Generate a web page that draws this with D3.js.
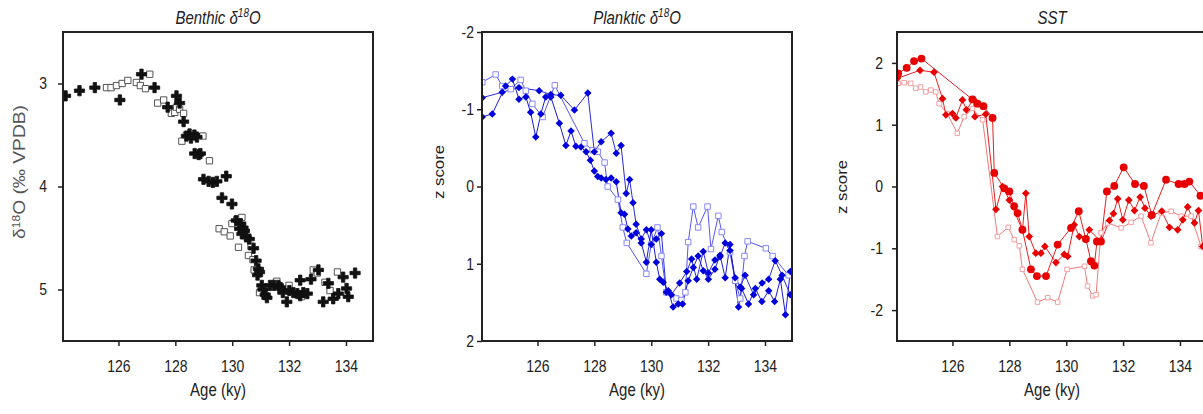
<!DOCTYPE html>
<html>
<head>
<meta charset="utf-8">
<script src="https://cdn.jsdelivr.net/npm/d3@7"></script>
<style>
body { margin: 0; background: #fff; }
svg { display: block; font-family: "Liberation Sans", Arial, sans-serif; }
</style>
</head>
<body>
<svg id="chart" width="1203" height="414"></svg>
<script>
// tick values
const ageTicks = [126, 128, 130, 132, 134]
const benthicTicks = [3, 4, 5]
const zTicks = [-2, -1, 0, 1, 2]

// benthic d18O, [age ky, permil]
const benthicCross = [[124.14,3.12],[124.63,3.07],[125.17,3.04],[126.05,3.16],[126.81,2.91],[127.27,3.04],[127.73,3.23],[128.04,3.12],[128.15,3.19],[128.29,3.37],[128.39,3.51],[128.5,3.49],[128.55,3.53],[128.67,3.50],[128.76,3.52],[128.68,3.68],[128.82,3.69],[128.88,3.68],[128.99,3.93],[129.17,3.95],[129.32,3.96],[129.46,3.95],[129.79,3.90],[129.64,4.11],[129.99,4.17],[130.14,4.33],[130.3,4.36],[130.26,4.41],[130.38,4.40],[130.43,4.43],[130.34,4.46],[130.49,4.49],[130.6,4.51],[130.75,4.6],[130.84,4.72],[130.92,4.80],[130.96,4.83],[130.89,4.86],[131.04,4.96],[131.08,5.0],[131.16,5.05],[131.22,5.08],[131.33,4.96],[131.47,4.96],[131.62,4.96],[131.7,4.98],[131.78,5.03],[131.92,5.12],[132.01,5.01],[132.15,5.03],[132.29,5.04],[132.39,5.06],[132.5,5.03],[132.64,5.04],[132.39,4.91],[132.77,4.90],[133.03,4.81],[133.2,5.12],[133.38,4.94],[133.55,5.09],[133.73,5.04],[133.9,4.88],[134.02,4.99],[134.08,5.07],[134.32,4.84]]
const benthicSquare = [[125.58,3.04],[125.74,3.04],[125.93,3.02],[126.13,3.0],[126.33,2.97],[126.63,2.99],[126.77,3.02],[126.95,3.05],[127.1,2.91],[127.38,3.19],[127.59,3.16],[127.86,3.29],[127.98,3.28],[128.04,3.23],[128.15,3.25],[128.29,3.29],[128.23,3.56],[128.39,3.50],[128.97,3.51],[129.2,3.75],[129.54,4.41],[129.72,4.44],[129.93,4.48],[129.99,4.36],[130.16,4.32],[130.34,4.30],[130.22,4.59],[130.66,4.58],[130.57,4.67],[130.73,4.71],[130.77,4.81],[130.96,5.03],[131.51,4.94],[131.57,4.92],[132.0,4.96],[132.44,5.07],[132.85,4.81],[132.99,4.84],[133.26,4.93],[133.44,5.01],[133.7,4.83]]

// planktic d18O z scores
const plankticA = [[124.06,-0.90],[124.41,-0.94],[124.88,-1.30],[125.12,-1.39],[125.35,-1.13],[125.59,-1.16],[125.76,-0.96],[125.94,-0.64],[126.12,-0.94],[126.29,-1.16],[126.47,-1.16],[126.77,-0.82],[127.0,-0.53],[127.18,-0.72],[127.35,-0.52],[127.53,-0.51],[127.71,-0.45],[127.86,-0.34],[128.0,-0.20],[128.12,-0.13],[128.24,-0.11],[128.41,-0.09],[128.59,-0.11],[128.77,-0.06],[128.94,0.34],[129.06,0.36],[129.18,0.55],[129.3,0.64],[129.47,0.60],[129.65,0.73],[129.83,0.98],[130.0,0.56],[130.18,0.98],[130.3,1.20],[130.42,1.24],[130.6,1.35],[130.77,1.56],[130.95,1.52],[131.1,1.52],[131.3,1.22],[131.48,1.05],[131.65,0.90],[131.83,1.09],[132.01,1.20],[132.24,1.07],[132.42,0.89],[132.6,1.18],[132.77,0.75],[133.07,1.56],[133.18,1.32],[133.42,1.52],[133.66,1.32],[133.89,1.49],[134.13,1.35],[134.34,1.49],[134.54,1.20],[134.72,1.66],[134.89,1.10]]
const plankticB = [[124.06,-1.15],[124.76,-1.22],[125.35,-1.28],[126.06,-1.24],[126.47,-1.19],[126.82,-1.18],[127.30,-0.99],[127.77,-1.21],[128.0,-0.45],[128.24,-0.58],[128.59,-0.69],[128.77,-0.43],[128.94,-0.53],[129.12,0.09],[129.24,-0.09],[129.36,0.21],[129.47,0.49],[129.65,0.68],[129.83,0.56],[130.0,0.75],[130.18,0.68],[130.36,0.61],[130.53,1.37],[130.71,1.40],[131.0,1.25],[131.25,1.10],[131.42,0.94],[131.6,1.20],[131.83,0.84],[132.01,1.12],[132.24,0.95],[132.42,0.91],[132.6,0.73],[132.77,0.83],[132.95,1.18],[133.13,1.30],[133.3,1.15],[133.6,1.40],[133.9,1.25],[134.13,1.20],[134.36,0.96],[134.6,1.15],[134.89,1.40]]
const plankticC = [[124.06,-1.35],[124.53,-1.45],[124.76,-1.30],[125.06,-1.26],[125.41,-1.38],[125.59,-1.24],[125.82,-1.07],[126.18,-0.90],[126.61,-1.31],[127.65,-0.56],[127.94,-0.47],[128.12,-0.45],[128.36,-0.31],[128.47,0.0],[128.83,0.17],[129.0,0.53],[129.14,0.73],[129.83,1.13],[130.0,0.75],[130.22,0.53],[130.36,0.90],[130.53,1.37],[130.89,1.45],[131.06,1.47],[131.2,1.37],[131.3,0.72],[131.48,0.26],[131.65,0.53],[131.98,0.26],[132.1,0.81],[132.36,0.38],[132.48,0.59],[132.77,0.85],[132.95,1.22],[133.13,1.45],[133.28,0.90],[133.39,0.71],[134.03,0.80],[134.27,0.90],[134.83,1.15]]

// SST z scores
const sstA = [[124.09,1.83],[124.39,1.92],[124.65,2.03],[124.91,2.07],[126.70,1.41],[126.88,1.34],[127.09,1.30],[127.41,1.11],[127.47,0.22],[127.82,-0.03],[128.0,-0.08],[128.17,-0.32],[128.29,-0.43],[128.46,-0.70],[128.76,-1.34],[128.97,-1.45],[129.29,-1.45],[129.70,-0.94],[130.17,-0.67],[130.44,-0.40],[130.69,-0.85],[130.87,-1.21],[130.99,-1.28],[131.08,-0.89],[131.22,-0.89],[131.43,-0.08],[131.69,0.01],[132.02,0.31],[132.42,0.04],[132.73,0.01],[133.01,-0.46],[133.51,0.11],[133.95,0.04],[134.16,0.04],[134.33,0.08],[134.72,-0.15]]
const sstB = [[124.06,1.75],[124.86,1.88],[125.35,1.85],[125.65,1.42],[125.77,1.16],[126.0,1.18],[126.12,1.11],[126.35,1.40],[126.49,1.24],[126.74,1.41],[126.79,1.13],[127.17,1.17],[127.53,-0.37],[127.76,0.0],[128.0,-0.22],[128.46,-0.70],[128.58,-0.11],[128.7,-0.81],[128.93,-1.08],[129.11,-1.08],[129.25,-0.97],[129.64,-1.23],[129.93,-1.10],[130.05,-1.13],[130.28,-0.62],[130.46,-0.81],[130.69,-0.85],[130.81,-0.70],[131.22,-0.89],[131.52,-0.55],[131.66,-0.44],[131.81,-0.20],[131.99,-0.54],[132.2,-0.22],[132.4,-0.39],[132.6,-0.17],[132.77,-0.35],[132.98,-0.48],[133.36,-0.40],[133.63,-0.66],[133.92,-0.70],[134.1,-0.54],[134.27,-0.33],[134.51,-0.59],[134.65,-0.39],[134.8,-0.97]]
const sstC = [[124.09,1.67],[124.3,1.68],[124.53,1.67],[124.71,1.59],[124.88,1.61],[125.06,1.53],[125.24,1.56],[125.41,1.53],[125.53,1.34],[125.82,1.18],[126.17,0.86],[126.41,1.13],[126.7,1.26],[127.06,1.08],[127.58,-0.81],[127.96,-0.66],[128.17,-0.86],[128.35,-0.96],[128.46,-1.34],[128.99,-1.87],[129.35,-1.80],[129.70,-1.87],[130.03,-1.34],[130.64,-1.29],[130.75,-1.61],[130.93,-1.77],[131.05,-1.75],[131.22,-0.75],[131.46,-0.59],[131.93,-0.67],[132.28,-0.58],[132.63,-0.48],[132.98,-0.91],[133.34,-0.43],[133.69,-0.40],[134.04,-0.48],[134.39,-0.48],[134.74,-0.97]]

const svg = d3.select('#chart')
const plotTop = 32, plotBottom = 341, plotW = 310
const stretch = 'scale(1,1.2)'

function drawPanel(opt) {
    const g = svg.append('g').attr('transform', `translate(${opt.left},0)`)
    const x = d3.scaleLinear().domain([124.05, 134.95]).range([0, plotW])
    const y = d3.scaleLinear().domain(opt.yDomain).range([plotTop, plotBottom])

    const clipId = 'clip' + opt.left
    g.append('clipPath').attr('id', clipId)
        .append('rect').attr('x', 0).attr('y', plotTop).attr('width', plotW).attr('height', plotBottom - plotTop)

    // plain hyphen for negatives, like the original
    const fmt = d => String(d)
    const xAxis = g.append('g')
        .attr('transform', `translate(0,${plotBottom})`)
        .call(d3.axisBottom(x).tickValues(ageTicks).tickSize(5).tickPadding(11).tickFormat(fmt))
    const yAxis = g.append('g')
        .call(d3.axisLeft(y).tickValues(opt.yTicks).tickSize(5).tickPadding(opt.pad).tickFormat(fmt))

    ;[xAxis, yAxis].forEach(a => {
        a.select('.domain').remove()
        a.selectAll('.tick line').attr('stroke', '#222').attr('stroke-width', 1.5)
        a.selectAll('.tick text').attr('fill', '#222').style('font-size', '14px')
            .style('font-family', '"Liberation Sans", Arial, sans-serif')
            .attr('transform', stretch)
    })

    const plot = g.append('g').attr('clip-path', `url(#${clipId})`)
    const line = d3.line().x(d => x(d[0])).y(d => y(d[1]))

    opt.series.forEach(s => {
        if (s.line) {
            plot.append('path').datum(s.data)
                .attr('d', line)
                .attr('fill', 'none')
                .attr('stroke', s.lineColor)
                .attr('stroke-width', s.lineWidth || 1)
        }
    })
    opt.series.forEach(s => {
        const sym = d3.symbol().type(s.type).size(s.size)
        plot.append('g').selectAll('path')
            .data(s.data)
            .join('path')
            .attr('d', sym)
            .attr('transform', d => `translate(${x(d[0])},${y(d[1])})` + (s.rotate ? ' rotate(45)' : ''))
            .attr('fill', s.fill)
            .attr('stroke', s.stroke || 'none')
            .attr('stroke-width', s.strokeWidth || 1)
            .attr('stroke-linejoin', 'round')
    })

    g.append('rect')
        .attr('x', 0).attr('y', plotTop)
        .attr('width', plotW).attr('height', plotBottom - plotTop)
        .attr('fill', 'none').attr('stroke', '#222').attr('stroke-width', 2)

    // title
    const t = g.append('text')
        .attr('transform', `translate(${plotW / 2},24) ${stretch}`)
        .attr('text-anchor', 'middle')
        .style('font-size', '15px').style('font-style', 'italic')
        .attr('fill', '#222')
    opt.title.forEach(p => {
        const ts = t.append('tspan').text(p.t)
        if (p.sup) ts.attr('baseline-shift', 'super').style('font-size', '10px')
    })

    // x label
    g.append('text')
        .attr('transform', `translate(${plotW / 2},396) ${stretch}`)
        .attr('text-anchor', 'middle')
        .style('font-size', '15px').attr('fill', '#222')
        .text('Age (ky)')

    // y label
    const yl = g.append('text')
        .attr('transform', `translate(${opt.yLabelX},${opt.yLabelY}) rotate(-90) scale(1.2,1)`)
        .attr('text-anchor', 'middle')
        .style('font-size', opt.yLabelSize || '14px').attr('fill', opt.yLabelColor || '#222')
    opt.yLabel.forEach(p => {
        const ts = yl.append('tspan').text(p.t)
        if (p.sup) ts.attr('baseline-shift', 'super').style('font-size', '10px')
    })
}

drawPanel({
    left: 63, yDomain: [2.5, 5.5], yTicks: benthicTicks, pad: 11,
    title: [{t: 'Benthic \u03b4'}, {t: '18', sup: true}, {t: 'O'}],
    yLabel: [{t: '\u03b4'}, {t: '18', sup: true}, {t: 'O (\u2030  VPDB)'}],
    yLabelX: -38, yLabelY: 172, yLabelColor: '#555', yLabelSize: '16px',
    series: [
        {data: benthicSquare, type: d3.symbolSquare, size: 40, fill: '#fff', stroke: '#555'},
        {data: benthicCross, type: d3.symbolCross, size: 58, fill: '#111', stroke: '#111', strokeWidth: 0.8}
    ]
})

drawPanel({
    left: 482, yDomain: [-2, 2], yTicks: zTicks, pad: 3,
    title: [{t: 'Planktic \u03b4'}, {t: '18', sup: true}, {t: 'O'}],
    yLabel: [{t: 'z score'}],
    yLabelX: -38, yLabelY: 172,
    series: [
        {data: plankticC, line: true, lineColor: '#5555ee', type: d3.symbolSquare, size: 30, fill: '#fff', stroke: '#8888ff'},
        {data: plankticB, line: true, lineColor: '#2a2ae0', type: d3.symbolSquare, size: 28, rotate: true, fill: '#0000dd'},
        {data: plankticA, line: true, lineColor: '#1a1ad8', type: d3.symbolSquare, size: 28, rotate: true, fill: '#0000dd'}
    ]
})

drawPanel({
    left: 897, yDomain: [2.5, -2.5], yTicks: zTicks, pad: 9,
    title: [{t: 'SST'}],
    yLabel: [{t: 'z score'}],
    yLabelX: -50, yLabelY: 187,
    series: [
        {data: sstC, line: true, lineColor: '#f07a7a', type: d3.symbolSquare, size: 20, fill: '#fff', stroke: '#f4a0a0'},
        {data: sstB, line: true, lineColor: '#e52020', type: d3.symbolSquare, size: 30, rotate: true, fill: '#e80000'},
        {data: sstA, line: true, lineColor: '#e52020', type: d3.symbolCircle, size: 48, fill: '#e80000'}
    ]
})
</script>
</body>
</html>
